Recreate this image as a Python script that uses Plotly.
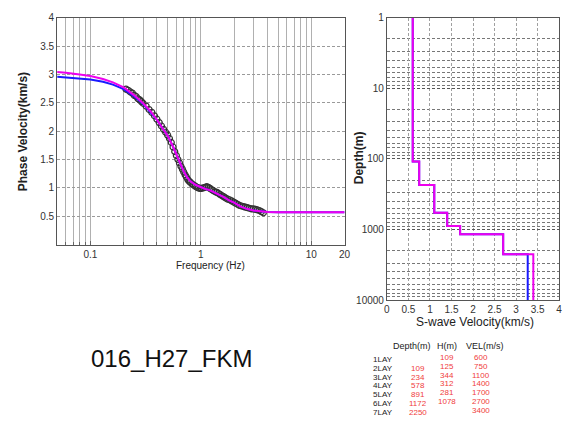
import plotly.graph_objects as go

# ---------------- data ----------------
# theoretical dispersion curve (final model, magenta)
fit_freq = [0.05, 0.06, 0.08, 0.1, 0.13, 0.16, 0.2, 0.25, 0.3, 0.35, 0.4, 0.45, 0.5, 0.55, 0.6,
            0.65, 0.7, 0.75, 0.8, 0.9, 1.0, 1.1, 1.2, 1.4, 1.6, 1.8, 2.0, 2.3, 2.6, 3.0, 3.5,
            4.0, 5.0, 7.0, 10.0, 20.0]
fit_vel = [3.04, 3.03, 3.00, 2.97, 2.92, 2.86, 2.77, 2.63, 2.49, 2.35, 2.20, 2.05, 1.92, 1.76, 1.58,
           1.43, 1.29, 1.19, 1.12, 1.05, 1.01, 0.98, 0.96, 0.90, 0.84, 0.78, 0.74, 0.67, 0.63, 0.60, 0.585,
           0.575, 0.57, 0.57, 0.57, 0.57]
# initial model curve (blue)
init_freq = [0.05, 0.06, 0.08, 0.1, 0.13, 0.16, 0.2, 0.25, 0.3, 0.35, 0.4, 0.45, 0.5, 0.55, 0.6,
             0.65, 0.7, 0.75, 0.8, 0.9, 1.0, 1.1, 1.2, 1.4, 1.6, 1.8, 2.0, 2.3, 2.6, 3.0, 3.5,
             4.0, 5.0, 7.0, 10.0, 20.0]
init_vel = [2.96, 2.95, 2.93, 2.91, 2.87, 2.82, 2.74, 2.61, 2.48, 2.34, 2.20, 2.05, 1.92, 1.76, 1.58,
            1.43, 1.29, 1.19, 1.12, 1.05, 1.01, 0.98, 0.96, 0.90, 0.84, 0.78, 0.74, 0.67, 0.63, 0.60, 0.585,
            0.575, 0.57, 0.57, 0.57, 0.57]
# observed phase velocities (circles)
obs_freq = [0.21, 0.22, 0.23, 0.24, 0.25, 0.26, 0.27, 0.28, 0.29, 0.30, 0.32, 0.34, 0.36, 0.38, 0.40,
            0.42, 0.44, 0.46, 0.48, 0.50, 0.52, 0.54, 0.56, 0.58, 0.60, 0.62, 0.64, 0.66, 0.68, 0.70,
            0.72, 0.74, 0.76, 0.78, 0.80, 0.83, 0.86, 0.89, 0.92, 0.95, 0.98, 1.01, 1.05, 1.09, 1.13,
            1.17, 1.21, 1.25, 1.30, 1.35, 1.40, 1.45, 1.50, 1.56, 1.62, 1.68, 1.75, 1.82, 1.90, 1.98,
            2.06, 2.15, 2.24, 2.33, 2.43, 2.53, 2.64, 2.75, 2.87, 2.99, 3.12, 3.25, 3.39, 3.53, 3.68]
obs_vel = [2.74, 2.72, 2.69, 2.67, 2.63, 2.61, 2.57, 2.55, 2.52, 2.49, 2.44, 2.38, 2.33, 2.27, 2.21,
           2.15, 2.09, 2.03, 1.98, 1.93, 1.87, 1.80, 1.72, 1.64, 1.57, 1.50, 1.44, 1.38, 1.33, 1.28,
           1.23, 1.19, 1.15, 1.12, 1.10, 1.07, 1.05, 1.03, 1.01, 1.00, 0.99, 0.99, 1.00, 1.01, 1.02,
           1.01, 0.99, 0.97, 0.95, 0.93, 0.92, 0.90, 0.88, 0.86, 0.84, 0.82, 0.80, 0.79, 0.77, 0.75,
           0.73, 0.71, 0.69, 0.68, 0.67, 0.66, 0.65, 0.64, 0.63, 0.63, 0.62, 0.61, 0.60, 0.58, 0.56]

# velocity structure
layer_names = ["1LAY", "2LAY", "3LAY", "4LAY", "5LAY", "6LAY", "7LAY"]
layer_depth = ["", "109", "234", "578", "891", "1172", "2250"]
layer_h = ["109", "125", "344", "312", "281", "1078", ""]
layer_vel = ["600", "750", "1100", "1400", "1700", "2700", "3400"]
bound_depth = [109, 234, 578, 891, 1172, 2250]          # layer bottoms (m)
final_vs = [0.60, 0.75, 1.10, 1.40, 1.70, 2.70, 3.40]     # km/s
init_vs = [0.60, 0.75, 1.10, 1.40, 1.70, 2.70, 3.27]      # km/s
depth_top, depth_bottom = 1, 10000

freq_ticks = [0.1, 1, 10, 20]
freq_minor = [0.05, 0.06, 0.07, 0.08, 0.09, 0.2, 0.3, 0.4, 0.5, 0.6, 0.7, 0.8, 0.9,
              2, 3, 4, 5, 6, 7, 8, 9]
pv_ticks = [0.5, 1, 1.5, 2, 2.5, 3, 3.5, 4]
vs_ticks = [0, 0.5, 1, 1.5, 2, 2.5, 3, 3.5, 4]
depth_ticks = [1, 10, 100, 1000, 10000]
depth_minor = [m * 10 ** e for e in range(0, 4) for m in range(2, 10)]


def step_profile(vs):
    xs, ys = [], []
    tops = [depth_top] + bound_depth
    bots = bound_depth + [depth_bottom]
    for v, t, b in zip(vs, tops, bots):
        xs += [v, v]
        ys += [t, b]
    return xs, ys


W, H = 575, 421
def px(x):
    return x / W
def py(y):
    return 1 - y / H

fig = go.Figure()

# left panel
fig.add_trace(go.Scatter(x=obs_freq, y=obs_vel, mode="markers",
                         marker=dict(symbol="circle-open", size=6, color="#333333", line=dict(width=1.2)),
                         xaxis="x", yaxis="y", showlegend=False))
fig.add_trace(go.Scatter(x=init_freq, y=init_vel, mode="lines", line=dict(color="#1a1aff", width=2),
                         xaxis="x", yaxis="y", showlegend=False))
fig.add_trace(go.Scatter(x=fit_freq, y=fit_vel, mode="lines", line=dict(color="#ee00ee", width=2),
                         xaxis="x", yaxis="y", showlegend=False))

# right panel
bx, by = step_profile(init_vs)
fig.add_trace(go.Scatter(x=bx, y=by, mode="lines", line=dict(color="#1a1aff", width=2),
                         xaxis="x2", yaxis="y2", showlegend=False))
mx, my = step_profile(final_vs)
fig.add_trace(go.Scatter(x=mx, y=my, mode="lines", line=dict(color="#ee00ee", width=2),
                         xaxis="x2", yaxis="y2", showlegend=False))

tickfont = dict(family="Liberation Sans, Arial, sans-serif", size=10, color="#333333")

fig.update_layout(
    width=W, height=H, margin=dict(l=0, r=0, t=0, b=0),
    paper_bgcolor="white", plot_bgcolor="white",
    xaxis=dict(domain=[px(55), px(347)], type="log", range=[-1.30103, 1.30103],
               tickvals=freq_ticks, ticktext=["0.1", "1", "10", "20"], tickfont=tickfont,
               showgrid=True, gridcolor="#b0b0b0", gridwidth=1,
               minor=dict(tickvals=freq_minor, showgrid=True, gridcolor="#b0b0b0", gridwidth=1,
                          ticks="inside", ticklen=3, tickcolor="#666"),
               ticks="inside", ticklen=4, tickcolor="#666",
               showline=True, linecolor="#555555", linewidth=1, mirror=True, zeroline=False,
               anchor="y"),
    yaxis=dict(domain=[py(246), py(13)], range=[0, 4], tickvals=pv_ticks,
               ticktext=["0.5", "1", "1.5", "2", "2.5", "3", "3.5", "4"], tickfont=tickfont,
               showgrid=True, gridcolor="#9a9a9a", griddash="3px,2px", gridwidth=1,
               showline=True, linecolor="#555555", linewidth=1, mirror=True, zeroline=False,
               ticks="", anchor="x"),
    xaxis2=dict(domain=[px(390), px(565)], range=[0, 4], tickvals=vs_ticks,
                ticktext=["0", "0.5", "1", "1.5", "2", "2.5", "3", "3.5", "4"], tickfont=tickfont,
                showgrid=True, gridcolor="#a0a0a0", griddash="3px,2px", gridwidth=1,
                showline=True, linecolor="#555555", linewidth=1, mirror=True, zeroline=False,
                ticks="", anchor="y2"),
    yaxis2=dict(domain=[py(303), py(13)], type="log", range=[4, 0], tickvals=depth_ticks,
                ticktext=["1", "10", "100", "1000", "10000"], tickfont=tickfont,
                showgrid=True, gridcolor="#555555", griddash="3px,2px", gridwidth=1,
                minor=dict(tickvals=depth_minor, showgrid=True, gridcolor="#777777",
                           griddash="3px,2px", gridwidth=1),
                showline=True, linecolor="#555555", linewidth=1, mirror=True, zeroline=False,
                ticks="", anchor="x2"),
)

ann = []
lab = dict(family="Liberation Sans, Arial, sans-serif", color="#222222")
ann.append(dict(x=px(20), y=py(130), text="<b>Phase Velocity(km/s)</b>", textangle=-90,
                font=dict(size=12, **lab)))
ann.append(dict(x=px(211), y=py(267), text="Frequency (Hz)", font=dict(size=10, **lab)))
ann.append(dict(x=px(362), y=py(157), text="<b>Depth(m)</b>", textangle=-90,
                font=dict(size=12, **lab)))
ann.append(dict(x=px(480), y=py(326), text="S-wave Velocity(km/s)", font=dict(size=12, **lab)))
ann.append(dict(x=px(171), y=py(363), text="016_H27_FKM",
                font=dict(size=24, family="Liberation Sans, Arial, sans-serif", color="#111111")))

tf = "Liberation Sans Narrow, Arial Narrow, Liberation Sans, sans-serif"
ann.append(dict(x=px(416), y=py(350), text="Depth(m)", font=dict(size=9, family=tf, color="#222")))
ann.append(dict(x=px(451), y=py(350), text="H(m)", font=dict(size=9, family=tf, color="#222")))
ann.append(dict(x=px(490), y=py(350), text="VEL(m/s)", font=dict(size=9, family=tf, color="#222")))
for i, name in enumerate(layer_names):
    yy = 364 + 9 * i
    ann.append(dict(x=px(386), y=py(yy), text=name, font=dict(size=8, family=tf, color="#222")))
    if layer_depth[i]:
        ann.append(dict(x=px(422), y=py(yy), text=layer_depth[i],
                        font=dict(size=8, family=tf, color="#f03c3c")))
    if layer_h[i]:
        ann.append(dict(x=px(451), y=py(yy - 2), text=layer_h[i],
                        font=dict(size=8, family=tf, color="#f03c3c")))
    ann.append(dict(x=px(486), y=py(yy - 2), text=layer_vel[i],
                    font=dict(size=8, family=tf, color="#f03c3c")))

for a in ann:
    a.update(xref="paper", yref="paper", showarrow=False, xanchor="center", yanchor="middle")
fig.update_layout(annotations=ann)

fig.write_html("out.html")
